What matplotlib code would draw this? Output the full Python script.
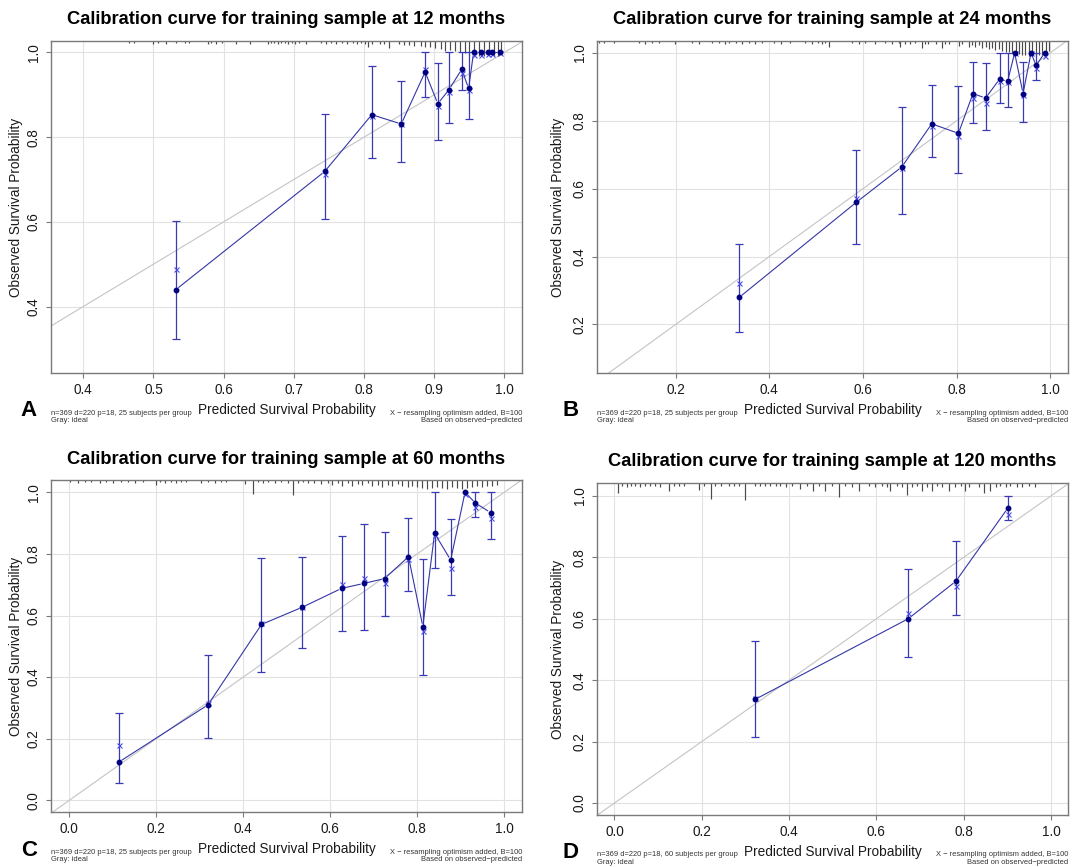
import numpy as np
import matplotlib
matplotlib.use("Agg")
import matplotlib.pyplot as plt
from matplotlib.collections import LineCollection

plt.rcParams["font.family"] = ["Liberation Sans", "DejaVu Sans"]

# ---- data ----
# 12 months
pred_12 = [0.532, 0.744, 0.811, 0.853, 0.887, 0.905, 0.921, 0.939, 0.949, 0.956, 0.967, 0.977, 0.982, 0.993]
obs_12 = [0.440, 0.719, 0.853, 0.831, 0.954, 0.879, 0.912, 0.960, 0.915, 1.0, 1.0, 1.0, 1.0, 1.0]
corr_12 = [0.489, 0.713, 0.850, 0.831, 0.962, 0.873, 0.907, 0.951, 0.911, 0.994, 0.994, 0.997, 0.997, 0.998]
lo_12 = [0.323, 0.606, 0.751, 0.741, 0.894, 0.794, 0.834, 0.911, 0.842, 1.0, 1.0, 1.0, 1.0, 1.0]
hi_12 = [0.602, 0.855, 0.968, 0.932, 1.0, 0.974, 1.0, 1.0, 1.0, 1.0, 1.0, 1.0, 1.0, 1.0]

# 24 months
pred_24 = [0.336, 0.586, 0.683, 0.747, 0.804, 0.835, 0.862, 0.892, 0.909, 0.924, 0.942, 0.959, 0.970, 0.988]
obs_24 = [0.280, 0.560, 0.664, 0.791, 0.763, 0.880, 0.867, 0.923, 0.916, 1.0, 0.880, 1.0, 0.963, 1.0]
corr_24 = [0.323, 0.573, 0.661, 0.785, 0.756, 0.868, 0.853, 0.917, 0.914, 1.0, 0.875, 1.0, 0.955, 0.990]
lo_24 = [0.179, 0.437, 0.525, 0.693, 0.645, 0.794, 0.774, 0.852, 0.841, 1.0, 0.796, 1.0, 0.920, 1.0]
hi_24 = [0.436, 0.715, 0.842, 0.904, 0.902, 0.974, 0.970, 1.0, 1.0, 1.0, 0.974, 1.0, 1.0, 1.0]

# 60 months
pred_60 = [0.115, 0.319, 0.442, 0.536, 0.626, 0.677, 0.725, 0.780, 0.813, 0.840, 0.877, 0.910, 0.934, 0.969]
obs_60 = [0.125, 0.310, 0.571, 0.627, 0.688, 0.704, 0.720, 0.791, 0.564, 0.867, 0.780, 1.0, 0.965, 0.934]
corr_60 = [0.178, 0.315, 0.576, 0.629, 0.701, 0.723, 0.705, 0.783, 0.551, 0.860, 0.755, 0.995, 0.953, 0.916]
lo_60 = [0.057, 0.201, 0.415, 0.496, 0.549, 0.553, 0.597, 0.680, 0.407, 0.754, 0.665, 1.0, 0.921, 0.848]
hi_60 = [0.283, 0.473, 0.786, 0.789, 0.859, 0.896, 0.871, 0.916, 0.783, 1.0, 0.914, 1.0, 1.0, 1.0]

# 120 months
pred_120 = [0.323, 0.673, 0.782, 0.901]
obs_120 = [0.338, 0.600, 0.722, 0.960]
corr_120 = [0.342, 0.618, 0.708, 0.940]
lo_120 = [0.216, 0.475, 0.611, 0.921]
hi_120 = [0.526, 0.761, 0.852, 1.0]

# distribution of predicted values (rug at the top), position and tick height (px)
rug_x_12 = [0.465, 0.472, 0.499, 0.507, 0.518, 0.532, 0.545, 0.551, 0.577, 0.582, 0.589, 0.598, 0.618, 0.637,
            0.663, 0.668, 0.672, 0.677, 0.682, 0.687, 0.692, 0.698, 0.702, 0.708, 0.717, 0.739, 0.746, 0.753,
            0.760, 0.768, 0.775, 0.784, 0.790, 0.796, 0.801, 0.806, 0.812, 0.822, 0.829, 0.836, 0.850, 0.857,
            0.864, 0.871, 0.881, 0.887, 0.894, 0.901, 0.909, 0.915, 0.923, 0.930, 0.937, 0.944, 0.950, 0.957,
            0.964, 0.971, 0.978, 0.985, 0.991, 0.995]
rug_h_12 = [2, 2, 2.5, 2, 2.5, 2, 2, 2, 2.5, 2, 2.5, 2, 2.5, 2.5,
            2.5, 2, 2, 2.5, 2, 2, 2.5, 2, 2.5, 2, 2.5, 2, 2.5, 2,
            2.5, 2, 2.5, 2, 2.5, 2, 2.5, 6, 2.5, 3, 2.5, 7, 3, 3.5,
            3.5, 4.5, 4.5, 6, 6, 7, 8, 10, 9, 10, 11, 12, 14, 15,
            15, 15, 15, 15, 15, 13]

rug_x_24 = [0.036, 0.047, 0.068, 0.121, 0.135, 0.150, 0.164, 0.199, 0.235, 0.249, 0.278, 0.292, 0.306, 0.313,
            0.328, 0.342, 0.356, 0.370, 0.384, 0.410, 0.424, 0.445, 0.477, 0.491, 0.505, 0.512, 0.519, 0.527,
            0.577, 0.591, 0.605, 0.626, 0.648, 0.662, 0.676, 0.680, 0.690, 0.700, 0.712, 0.726, 0.733, 0.740,
            0.755, 0.769, 0.776, 0.783, 0.805, 0.812, 0.826, 0.833, 0.840, 0.847, 0.855, 0.862, 0.869, 0.876,
            0.883, 0.890, 0.897, 0.905, 0.912, 0.919, 0.926, 0.933, 0.940, 0.947, 0.955, 0.962, 0.969, 0.976,
            0.983, 0.990, 0.997]
rug_h_24 = [2, 2, 2, 2, 2.5, 2, 2, 2.5, 2, 2.5, 2, 2, 2.5, 2,
            2, 2.5, 2, 2.5, 2, 2, 2.5, 2, 2, 2.5, 2, 2.5, 2, 6,
            2, 2.5, 2, 2.5, 2, 2.5, 2, 6, 2.5, 2.5, 2, 7, 2.5, 2.5,
            2.5, 7, 2.5, 2.5, 5, 3, 6, 3.5, 6, 3.5, 7, 6, 8, 7,
            9, 8, 10, 11, 11, 12, 13, 13, 14, 14, 15, 15, 15, 14,
            14, 12, 10]

rug_x_60 = [0.001, 0.020, 0.036, 0.051, 0.070, 0.085, 0.101, 0.120, 0.135, 0.150, 0.170, 0.200, 0.208, 0.219,
            0.235, 0.246, 0.258, 0.269, 0.303, 0.319, 0.334, 0.349, 0.361, 0.403, 0.422, 0.433, 0.445, 0.456,
            0.472, 0.487, 0.502, 0.514, 0.525, 0.537, 0.548, 0.563, 0.579, 0.594, 0.605, 0.617, 0.628, 0.640,
            0.651, 0.663, 0.674, 0.686, 0.697, 0.709, 0.720, 0.732, 0.743, 0.755, 0.766, 0.778, 0.789, 0.800,
            0.812, 0.823, 0.835, 0.846, 0.858, 0.869, 0.881, 0.892, 0.904, 0.915, 0.927, 0.938, 0.950, 0.961,
            0.973, 0.984]
rug_h_60 = [2, 2.5, 2, 2, 2.5, 2, 2.5, 2, 2, 2.5, 2, 5, 2, 2.5,
            2, 2.5, 2, 2, 2.5, 2, 2.5, 2, 2, 3.5, 14, 2, 2.5, 2,
            2.5, 2, 2.5, 15, 2.5, 2, 2.5, 2.5, 3.5, 2.5, 5, 2.5, 6, 2.5,
            6, 3.5, 5, 2.5, 6, 5, 7, 5, 6, 3.5, 6, 7, 6, 7,
            8, 9, 8, 7, 8, 9, 7, 8, 9, 8, 7, 6, 7, 6,
            6, 5]

rug_x_120 = [0.008, 0.017, 0.029, 0.037, 0.048, 0.059, 0.071, 0.082, 0.094, 0.105, 0.124, 0.136, 0.147, 0.159,
             0.193, 0.204, 0.222, 0.231, 0.243, 0.262, 0.273, 0.285, 0.300, 0.323, 0.334, 0.346, 0.357, 0.369,
             0.380, 0.392, 0.407, 0.426, 0.441, 0.454, 0.468, 0.483, 0.498, 0.514, 0.529, 0.544, 0.560, 0.583,
             0.598, 0.613, 0.625, 0.632, 0.647, 0.659, 0.670, 0.682, 0.693, 0.705, 0.716, 0.728, 0.739, 0.750,
             0.766, 0.781, 0.793, 0.804, 0.812, 0.835, 0.846, 0.861, 0.873, 0.884, 0.896, 0.907, 0.922, 0.934,
             0.949, 0.964]
rug_h_120 = [10, 3, 4, 3, 3, 4, 3, 3, 3, 4, 8, 3, 3, 3,
             7, 3, 16, 3, 3, 3, 3, 3, 17, 3, 3, 3, 3, 3,
             3, 4, 3, 5.5, 3, 8, 3, 8, 3, 14, 3, 4, 8, 3,
             4, 3, 4, 8, 3, 4, 12, 4, 3, 8, 4, 8, 3, 4,
             8, 4, 3, 8, 4, 4, 9.5, 8, 4, 3, 4, 3, 4, 4,
             3, 4]

titles = ["Calibration curve for training sample at 12 months",
          "Calibration curve for training sample at 24 months",
          "Calibration curve for training sample at 60 months",
          "Calibration curve for training sample at 120 months"]
letters = ["A", "B", "C", "D"]
group_sizes = [25, 25, 25, 60]
xticks_list = [[0.4, 0.5, 0.6, 0.7, 0.8, 0.9, 1.0],
               [0.2, 0.4, 0.6, 0.8, 1.0],
               [0.0, 0.2, 0.4, 0.6, 0.8, 1.0],
               [0.0, 0.2, 0.4, 0.6, 0.8, 1.0]]
yticks_list = [[0.4, 0.6, 0.8, 1.0],
               [0.2, 0.4, 0.6, 0.8, 1.0],
               [0.0, 0.2, 0.4, 0.6, 0.8, 1.0],
               [0.0, 0.2, 0.4, 0.6, 0.8, 1.0]]

# ---- layout (pixels on a 1072 x 867 canvas) ----
W, H = 1072, 867
# (left, right, top, bottom), xlim, ylim
boxes = [(51, 522, 41, 373), (597, 1068, 41, 373), (51, 522, 480, 812), (597, 1068, 483, 815)]
xlims = [(0.354, 1.025), (0.032, 1.038), (-0.042, 1.041), (-0.040, 1.039)]
ylims = [(0.243, 1.027), (0.057, 1.035), (-0.038, 1.040), (-0.039, 1.042)]
title_gap = [22, 22, 21, 21]

LINE = "#3535a8"
DOT = "#000080"
XMARK = "#4a4ae6"
ERR = "#3a3ab4"
DIAG = "#c4c4c4"
GRID = "#e2e2e2"
FRAME = "#7a7a7a"
RUG = "#4a4a4a"

series = [
    (pred_12, obs_12, corr_12, lo_12, hi_12, rug_x_12, rug_h_12),
    (pred_24, obs_24, corr_24, lo_24, hi_24, rug_x_24, rug_h_24),
    (pred_60, obs_60, corr_60, lo_60, hi_60, rug_x_60, rug_h_60),
    (pred_120, obs_120, corr_120, lo_120, hi_120, rug_x_120, rug_h_120),
]

fig = plt.figure(figsize=(W / 100, H / 100), dpi=100)


def fx(px):
    return px / W


def fy(py):
    return 1 - py / H


def gapped_line(ax, x, y, gap):
    # R's type="b": line segments stop short of each point
    pts = ax.transData.transform(np.column_stack([x, y]))
    inv = ax.transData.inverted()
    segs = []
    for p, q in zip(pts[:-1], pts[1:]):
        d = q - p
        L = np.hypot(*d)
        if L <= 2 * gap:
            continue
        u = d / L
        segs.append(inv.transform(np.array([p + u * gap, q - u * gap])))
    ax.add_collection(LineCollection(segs, colors=LINE, linewidths=0.8, zorder=3))


for i, (pred, obs, corr, lo, hi, rx, rh) in enumerate(series):
    l, r, t, b = boxes[i]
    ax = fig.add_axes([fx(l), fy(b), (r - l) / W, (b - t) / H])
    ax.set_xlim(*xlims[i])
    ax.set_ylim(*ylims[i])
    ax.set_xticks(xticks_list[i])
    ax.set_yticks(yticks_list[i])
    ax.set_xticklabels([f"{v:.1f}" for v in xticks_list[i]])
    ax.set_yticklabels([f"{v:.1f}" for v in yticks_list[i]], rotation=90, va="center")
    ax.tick_params(axis="both", direction="out", length=3.5, width=0.8, color=FRAME,
                   labelsize=9.8, labelcolor="#1a1a1a")
    ax.tick_params(axis="x", pad=4)
    ax.tick_params(axis="y", pad=4)
    for s in ax.spines.values():
        s.set_color(FRAME)
        s.set_linewidth(1.0)
    ax.grid(True, color=GRID, lw=0.8, zorder=0)
    ax.set_axisbelow(True)

    # ideal line
    ax.plot([-0.1, 1.1], [-0.1, 1.1], color=DIAG, lw=0.8, zorder=1)

    # rug of predicted values along the top
    ax_h = b - t
    ax.vlines(rx, [1 - h / ax_h for h in rh], 1, transform=ax.get_xaxis_transform(),
              color=RUG, lw=0.85, zorder=2)

    pred = np.array(pred)
    obs = np.array(obs)
    lo = np.array(lo)
    hi = np.array(hi)
    has_ci = hi - lo > 1e-6
    ax.errorbar(pred[has_ci], obs[has_ci],
                yerr=[obs[has_ci] - lo[has_ci], hi[has_ci] - obs[has_ci]],
                fmt="none", ecolor=ERR, elinewidth=0.9, capsize=2.8, capthick=0.9, zorder=3)
    gapped_line(ax, pred, obs, 3.0)
    ax.plot(pred, corr, ls="none", marker="x", ms=3.6, mew=0.8, color=XMARK, zorder=4)
    ax.plot(pred, obs, ls="none", marker="o", ms=3.2, color=DOT, mec=DOT, zorder=5)

    cx = (l + r) / 2
    fig.text(fx(cx), fy(t - title_gap[i]), titles[i], ha="center", va="center",
             fontsize=13.2, fontweight="bold")
    fig.text(fx(cx), fy(b + 37), "Predicted Survival Probability", ha="center", va="center",
             fontsize=9.8, color="#1a1a1a")
    fig.text(fx(l - 35 if i % 2 == 0 else l - 39), fy((t + b) / 2), "Observed Survival Probability",
             ha="center", va="center", rotation=90, fontsize=9.8, color="#1a1a1a")
    fig.text(fx(l - 22 if i % 2 == 0 else l - 26), fy(b + 38), letters[i], ha="center", va="center",
             fontsize=16, fontweight="bold")
    fig.text(fx(l), fy(b + 40), f"n=369 d=220 p=18, {group_sizes[i]} subjects per group",
             ha="left", va="center", fontsize=5.4, color="#333333")
    fig.text(fx(l), fy(b + 47.5), "Gray: ideal", ha="left", va="center", fontsize=5.4, color="#333333")
    fig.text(fx(r), fy(b + 40), "X \u2212 resampling optimism added, B=100",
             ha="right", va="center", fontsize=5.4, color="#333333")
    fig.text(fx(r), fy(b + 47.5), "Based on observed\u2212predicted",
             ha="right", va="center", fontsize=5.4, color="#333333")

fig.savefig("out.png", dpi=100)
